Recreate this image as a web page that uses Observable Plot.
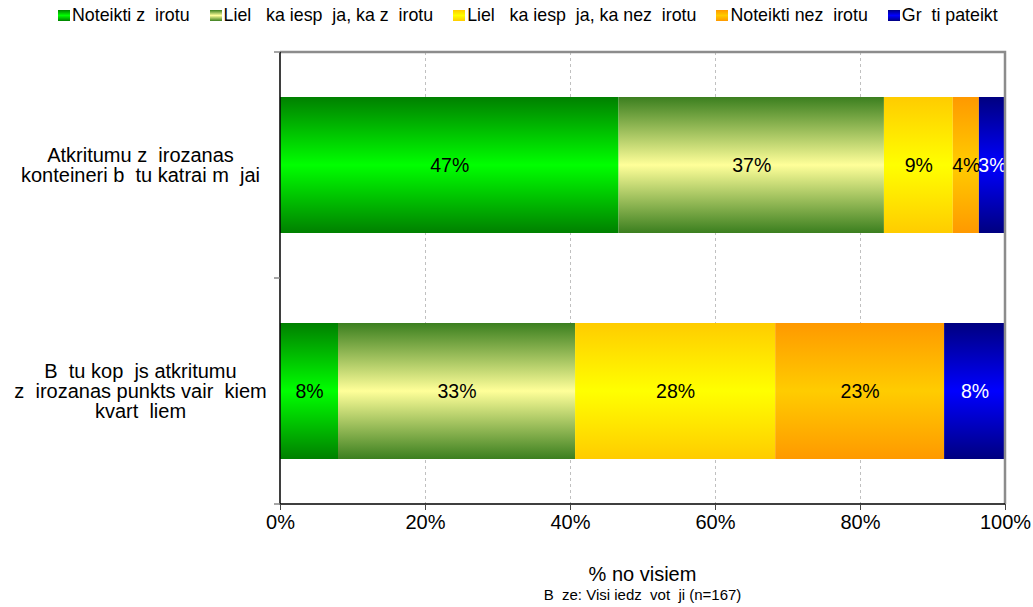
<!DOCTYPE html>
<html>
<head>
<meta charset="utf-8">
<script src="https://cdn.jsdelivr.net/npm/d3@7"></script>
<script src="https://cdn.jsdelivr.net/npm/@observablehq/plot@0.6"></script>
<style>
  html, body { margin: 0; padding: 0; background: #fff; }
  body { font-family: "Liberation Sans", Arial, sans-serif; }
  #wrap { position: relative; width: 1033px; height: 607px; overflow: hidden; }
  #chart { position: absolute; left: 0; top: 0; }
  #chart svg { white-space: pre; font-family: "Liberation Sans", Arial, sans-serif; }
  #legend { position: absolute; top: 5px; left: 58px; display: flex; align-items: center;
            font-size: 17.8px; line-height: 21px; color: #000; white-space: pre; }
  .item { display: flex; align-items: center; margin-right: 20px; }
  .sw { width: 12px; height: 11px; margin-right: 2px; }
  .lbl { position: absolute; left: 280px; width: 725px; text-align: center; color: #000; white-space: pre; }
</style>
</head>
<body>
<div id="wrap">
  <div id="chart"></div>
  <div id="legend"></div>
  <div class="lbl" id="xlabel" style="top:562px;font-size:20px;line-height:24px;"></div>
  <div class="lbl" id="caption" style="top:586px;font-size:15px;line-height:18px;"></div>
</div>
<script>
// ---- data ----
const categories = [
  "Atkritumu z  irozanas\nkonteineri b  tu katrai m  jai",
  "B  tu kop  js atkritumu\nz  irozanas punkts vair  kiem\nkvart  liem"
];
const series = [
  "Noteikti z  irotu",
  "Liel   ka iesp  ja, ka z  irotu",
  "Liel   ka iesp  ja, ka nez  irotu",
  "Noteikti nez  irotu",
  "Gr  ti pateikt"
];
const valuesCat1 = [46.7, 36.6, 9.5, 3.6, 3.6];
const valuesCat2 = [8.0, 32.7, 27.6, 23.3, 8.4];
const labelsCat1 = ["47%", "37%", "9%", "4%", "3%"];
const labelsCat2 = ["8%", "33%", "28%", "23%", "8%"];
const xTicks = [0, 20, 40, 60, 80, 100];
const xTickLabels = ["0%", "20%", "40%", "60%", "80%", "100%"];
const xAxisTitle = "% no visiem";
const caption = "B  ze: Visi iedz  vot  ji (n=167)";

// ---- styles ----
const gradEdge = ["#008000", "#3b7f1f", "#ffcc00", "#ff9900", "#000080"];
const gradMid  = ["#00ff00", "#ffff99", "#ffff00", "#ffcc00", "#0000ff"];
const labelColor = ["#000", "#000", "#000", "#000", "#fff"];

// ---- table ----
const rows = [];
[valuesCat1, valuesCat2].forEach((vals, ci) => {
  const labs = ci === 0 ? labelsCat1 : labelsCat2;
  vals.forEach((v, si) => rows.push({cat: categories[ci], series: series[si], si, value: v, label: labs[si]}));
});

const defsMark = () => {
  const defs = d3.create("svg:defs");
  gradEdge.forEach((e, i) => {
    const g = defs.append("linearGradient").attr("id", "grad" + i)
      .attr("x1", 0).attr("y1", 0).attr("x2", 0).attr("y2", 1);
    g.append("stop").attr("offset", "0%").attr("stop-color", e);
    g.append("stop").attr("offset", "50%").attr("stop-color", gradMid[i]);
    g.append("stop").attr("offset", "100%").attr("stop-color", e);
  });
  return defs.node();
};

const frameMark = (index, scales, values, dim) => {
  const g = d3.create("svg:g");
  const l = dim.marginLeft, r = dim.width - dim.marginRight;
  const t = dim.marginTop, b = dim.height - dim.marginBottom;
  g.append("path").attr("d", `M${l},${t}H${r}V${b}`).attr("fill", "none")
    .attr("stroke", "#8c8c8c").attr("stroke-width", 2.5);
  g.append("path").attr("d", `M${l},${t}V${b}H${r}`).attr("fill", "none")
    .attr("stroke", "#000").attr("stroke-width", 1.5);
  [t, (t + b) / 2, b].forEach(y => g.append("line")
    .attr("x1", l - 6).attr("x2", l).attr("y1", y).attr("y2", y)
    .attr("stroke", "#888").attr("stroke-width", 1.5));
  return g.node();
};

const chart = Plot.plot({
  width: 1033,
  height: 607,
  marginLeft: 280,
  marginRight: 28,
  marginTop: 52,
  marginBottom: 103,
  style: {fontFamily: "Liberation Sans, Arial, sans-serif", background: "#fff"},
  x: {domain: [0, 100]},
  y: {domain: categories, paddingInner: 0.4, paddingOuter: 0.2},
  color: {type: "identity"},
  marks: [
    defsMark,
    Plot.gridX([20, 40, 60, 80], {stroke: "#c0c0c0", strokeOpacity: 1, strokeDasharray: "3,3"}),
    Plot.barX(rows, Plot.stackX({x: "value", y: "cat", z: "series", fill: d => `url(#grad${d.si})`})),
    Plot.text(rows, Plot.stackX({x: "value", y: "cat", z: "series", text: "label",
      fill: d => labelColor[d.si], fontSize: 19.5})),
    frameMark,
    Plot.axisX({ticks: xTicks, tickFormat: (d) => xTickLabels[xTicks.indexOf(d)], tickSize: 6,
      stroke: "#444", fontSize: 20, tickPadding: 4, label: null}),
    Plot.axisY({tickSize: 0, textAnchor: "middle", dx: -131, fontSize: 20, lineHeight: 1.0, label: null})
  ]
});
document.getElementById("chart").append(chart);

// legend
const legend = document.getElementById("legend");
series.forEach((s, i) => {
  const it = document.createElement("div"); it.className = "item";
  const sw = document.createElement("div"); sw.className = "sw";
  sw.style.background = `linear-gradient(to bottom, ${gradEdge[i]}, ${gradMid[i]}, ${gradEdge[i]})`;
  const tx = document.createElement("span"); tx.textContent = s;
  it.append(sw, tx); legend.append(it);
});
document.getElementById("xlabel").textContent = xAxisTitle;
document.getElementById("caption").textContent = caption;
</script>
</body>
</html>
